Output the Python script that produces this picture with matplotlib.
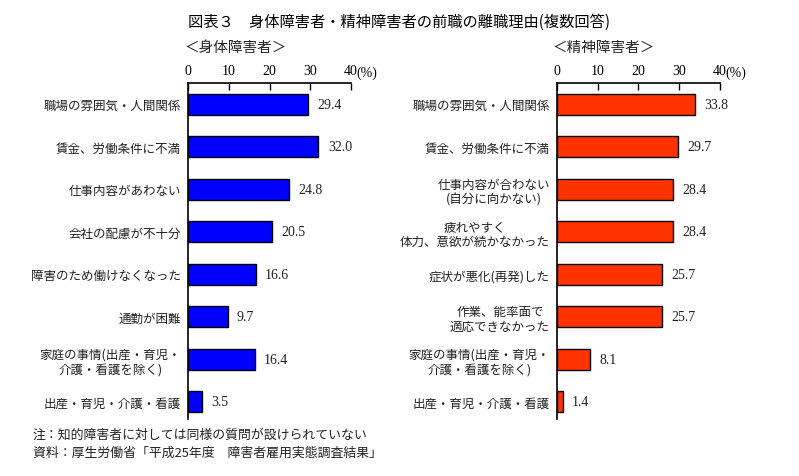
import matplotlib

matplotlib.use("Agg")
import matplotlib.pyplot as plt

plt.rcParams["font.family"] = ["Noto Sans CJK JP", "DejaVu Sans"]

# 身体障害者
body_labels = [
    "職場の雰囲気・人間関係",
    "賃金、労働条件に不満",
    "仕事内容があわない",
    "会社の配慮が不十分",
    "障害のため働けなくなった",
    "通勤が困難",
    "家庭の事情(出産・育児・\n介護・看護を除く)",
    "出産・育児・介護・看護",
]
body_values = [29.4, 32.0, 24.8, 20.5, 16.6, 9.7, 16.4, 3.5]

# 精神障害者
mental_labels = [
    "職場の雰囲気・人間関係",
    "賃金、労働条件に不満",
    "仕事内容が合わない\n(自分に向かない)",
    "疲れやすく\n体力、意欲が続かなかった",
    "症状が悪化(再発)した",
    "作業、能率面で\n適応できなかった",
    "家庭の事情(出産・育児・\n介護・看護を除く)",
    "出産・育児・介護・看護",
]
mental_values = [33.8, 29.7, 28.4, 28.4, 25.7, 25.7, 8.1, 1.4]

x_ticks = [0, 10, 20, 30, 40]

NUM_FONT = ["Liberation Serif", "Noto Sans CJK JP"]


def draw_panel(fig, rect, labels, values, color, subtitle):
    ax = fig.add_axes(rect)
    ys = list(range(len(values)))
    ax.barh(ys, values, height=0.5, color=color, edgecolor="black", linewidth=1.0)
    for y, v in zip(ys, values):
        ax.text(v + 2.3, y, f"{v:.1f}", va="center", ha="left",
                fontsize=10, family=NUM_FONT, color="#222222")
    ax.set_xlim(0, 40)
    ax.set_ylim(7.4, -0.5)
    ax.set_yticks(ys)
    ax.set_yticklabels(labels, fontsize=9, multialignment="center", color="#222222")
    ax.tick_params(axis="y", length=0, pad=5)
    ax.xaxis.tick_top()
    ax.set_xticks(x_ticks)
    ax.set_xticklabels([str(t) for t in x_ticks], family=NUM_FONT, fontsize=10)
    ax.tick_params(axis="x", direction="in", length=5, width=1.0, pad=4)
    ax.text(41.4, 1.012, "(%)", transform=ax.get_xaxis_transform(),
            fontsize=10, va="bottom", ha="left", family=NUM_FONT)
    for s in ("right", "bottom"):
        ax.spines[s].set_visible(False)
    for s in ("top", "left"):
        ax.spines[s].set_linewidth(1.2)
    fig.text(rect[0] - 0.005, 0.900, subtitle, fontsize=10.5, ha="left", va="center",
             color="#222222")
    return ax


def main():
    fig = plt.figure(figsize=(7.99, 4.77), dpi=100)
    fig.text(0.5, 0.953, "図表３　身体障害者・精神障害者の前職の離職理由(複数回答)",
             ha="center", va="center", fontsize=11)
    draw_panel(fig, [0.2353, 0.12, 0.204, 0.704], body_labels, body_values,
               "#0000FF", "＜身体障害者＞")
    draw_panel(fig, [0.697, 0.12, 0.204, 0.704], mental_labels, mental_values,
               "#FF3300", "＜精神障害者＞")
    fig.text(0.041, 0.088, "注：知的障害者に対しては同様の質問が設けられていない",
             fontsize=9.3, ha="left", va="center", color="#222222")
    fig.text(0.041, 0.050, "資料：厚生労働省「平成25年度　障害者雇用実態調査結果」",
             fontsize=9.3, ha="left", va="center", color="#222222")
    fig.savefig("out.png", dpi=100)


if __name__ == "__main__":
    main()
